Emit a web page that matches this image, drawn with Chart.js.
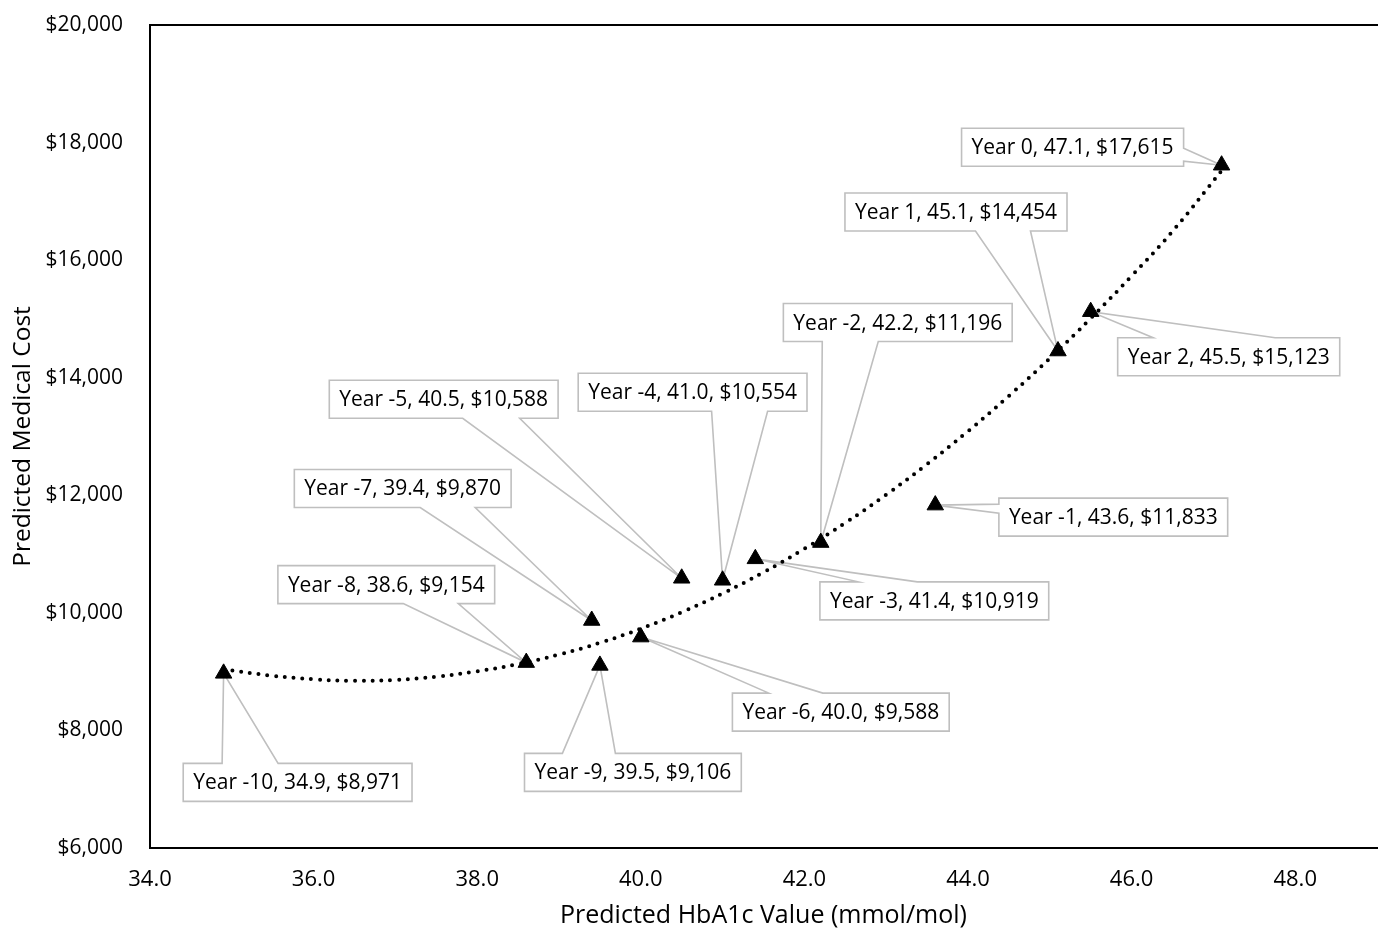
<!DOCTYPE html>
<html>
<head>
<meta charset="utf-8">
<script src="https://cdn.jsdelivr.net/npm/chart.js@4.4.1/dist/chart.umd.min.js"></script>
<style>
  html, body { margin: 0; padding: 0; background: #fff; }
  #wrap { width: 1378px; height: 931px; }
</style>
</head>
<body>
<div id="wrap"><canvas id="mycanvas"></canvas></div>
<script>
// data
var years = ['Year -10', 'Year -9', 'Year -8', 'Year -7', 'Year -6', 'Year -5', 'Year -4',
             'Year -3', 'Year -2', 'Year -1', 'Year 0', 'Year 1', 'Year 2'];
var hba1c = [34.9, 39.5, 38.6, 39.4, 40.0, 40.5, 41.0, 41.4, 42.2, 43.6, 47.1, 45.1, 45.5];
var cost = [8971, 9106, 9154, 9870, 9588, 10588, 10554, 10919, 11196, 11833, 17615, 14454, 15123];

// dotted trend curve
var trendX = [34.9, 35.5, 36.0, 36.5, 37.0, 37.5, 38.0, 38.5, 39.0, 39.5, 40.0, 40.5, 41.0,
              41.5, 42.0, 42.5, 43.0, 43.5, 44.0, 44.5, 45.0, 45.5, 46.0, 46.5, 47.1];
var trendY = [9040, 8930, 8870, 8845, 8860, 8915, 9005, 9130, 9290, 9490, 9730, 10010, 10330,
              10690, 11090, 11530, 12010, 12530, 13090, 13690, 14330, 15010, 15730, 16490, 17520];

var xTicks = [34, 36, 38, 40, 42, 44, 46, 48];
var yTicks = [6000, 8000, 10000, 12000, 14000, 16000, 18000, 20000];

// callout layout: box centre offset from point (px), side of the pointer, pointer base offsets
var callouts = [
  [74, 109, 'top', -75.5, -19.5],
  [33, 107, 'top', -70.5, -17.5],
  [-140, -78, 'bottom', 17, 72],
  [-189, -132, 'bottom', 17.5, 72.5],
  [200, 75, 'top', -72, -18],
  [-238, -179, 'bottom', 19, 76],
  [-30, -188, 'bottom', 19, 75],
  [179, 42, 'top', -76, -17],
  [77, -220, 'bottom', -75.5, -19.5],
  [178, 12, 'left', -13, -4],
  [-149, -18, 'right', 1, 14],
  [-102, -139, 'bottom', 19.5, 74.5],
  [138, 45, 'top', -75.5, 46.5]
];

var FONT = "'Open Sans', 'Noto Sans', sans-serif";

var points = [];
for (var i in years) {
  points.push({x: hba1c[i], y: cost[i]});
}
var trend = [];
for (var j in trendX) {
  trend.push({x: trendX[j], y: trendY[j]});
}

function labelText(i) {
  return years[i] + ', ' + hba1c[i].toFixed(1) + ', $' + cost[i].toLocaleString('en-US');
}

var calloutPlugin = {
  id: 'callouts',
  beforeDatasetsDraw: function(chart) {
    var ctx = chart.ctx;
    var meta = chart.getDatasetMeta(1);
    ctx.save();
    ctx.font = '21px ' + FONT;
    var h = 38;
    for (var i = 0; i < meta.data.length; i++) {
      var p = meta.data[i];
      var c = callouts[i];
      var txt = labelText(i);
      var w = ctx.measureText(txt).width + 20;
      var cx = p.x + c[0], cy = p.y + c[1];
      var l = cx - w / 2, r = cx + w / 2, t = cy - h / 2, b = cy + h / 2;

      ctx.fillStyle = '#fff';
      ctx.fillRect(l, t, w, h);

      ctx.beginPath();
      ctx.moveTo(l, t);
      if (c[2] == 'top') {
        ctx.lineTo(cx + c[3], t); ctx.lineTo(p.x, p.y); ctx.lineTo(cx + c[4], t);
      }
      ctx.lineTo(r, t);
      if (c[2] == 'right') {
        ctx.lineTo(r, cy + c[3]); ctx.lineTo(p.x, p.y); ctx.lineTo(r, cy + c[4]);
      }
      ctx.lineTo(r, b);
      if (c[2] == 'bottom') {
        ctx.lineTo(cx + c[4], b); ctx.lineTo(p.x, p.y); ctx.lineTo(cx + c[3], b);
      }
      ctx.lineTo(l, b);
      if (c[2] == 'left') {
        ctx.lineTo(l, cy + c[4]); ctx.lineTo(p.x, p.y); ctx.lineTo(l, cy + c[3]);
      }
      ctx.closePath();
      ctx.strokeStyle = '#bfbfbf';
      ctx.lineWidth = 1.6;
      ctx.stroke();

      ctx.fillStyle = '#000';
      ctx.textAlign = 'center';
      ctx.textBaseline = 'middle';
      ctx.fillText(txt, cx, cy + 1);
    }
    // top border of the plot area
    var a = chart.chartArea;
    ctx.beginPath();
    ctx.moveTo(a.left - 1, a.top);
    ctx.lineTo(a.right + 2, a.top);
    ctx.strokeStyle = '#000';
    ctx.lineWidth = 2;
    ctx.stroke();
    ctx.restore();
  }
};

var ctx = document.getElementById('mycanvas');

var chart = new Chart(ctx, {
  type: 'scatter',
  data: {
    datasets: [
      {
        type: 'line',
        label: 'Trend',
        data: trend,
        borderColor: '#000',
        borderWidth: 4,
        borderDash: [0, 8.8],
        borderCapStyle: 'round',
        pointRadius: 0,
        tension: 0.4,
        fill: false,
        order: 2
      },
      {
        label: 'Cost',
        data: points,
        pointStyle: 'triangle',
        pointRadius: 9.5,
        backgroundColor: '#000',
        borderColor: '#000',
        borderWidth: 1,
        order: 1
      }
    ]
  },
  options: {
    responsive: true,
    maintainAspectRatio: false,
    animation: false,
    events: [],
    layout: { autoPadding: false, padding: { top: 25, right: 1, left: 0, bottom: 0 } },
    plugins: {
      legend: { display: false },
      tooltip: { enabled: false }
    },
    scales: {
      x: {
        type: 'linear',
        min: 34,
        max: 49,
        afterBuildTicks: function(scale) {
          scale.ticks = xTicks.map(function(v) { return {value: v}; });
        },
        afterFit: function(scale) {
          scale.height = 83;
          scale.paddingLeft = 0;
          scale.paddingRight = 0;
        },
        grid: { display: false, drawTicks: false },
        border: { display: true, color: '#000', width: 2 },
        ticks: {
          padding: 19,
          color: '#000',
          font: { family: FONT, size: 22 },
          maxRotation: 0,
          callback: function(v) { return v.toFixed(1); }
        },
        title: {
          display: true,
          text: 'Predicted HbA1c Value (mmol/mol)',
          color: '#000',
          font: { family: FONT, size: 25 },
          padding: { top: 0, bottom: 0 }
        }
      },
      y: {
        min: 6000,
        max: 20000,
        afterBuildTicks: function(scale) {
          scale.ticks = yTicks.map(function(v) { return {value: v}; });
        },
        afterFit: function(scale) {
          scale.width = 150;
          scale.paddingTop = 0;
          scale.paddingBottom = 0;
        },
        grid: { display: false, drawTicks: false },
        border: { display: true, color: '#000', width: 2 },
        ticks: {
          padding: 27,
          color: '#000',
          font: { family: FONT, size: 21 },
          callback: function(v) { return '$' + v.toLocaleString('en-US'); }
        },
        title: {
          display: true,
          text: 'Predicted Medical Cost',
          color: '#000',
          font: { family: FONT, size: 24.5 },
          padding: { top: 8, bottom: 0 }
        }
      }
    }
  },
  plugins: [calloutPlugin]
});
</script>
</body>
</html>
